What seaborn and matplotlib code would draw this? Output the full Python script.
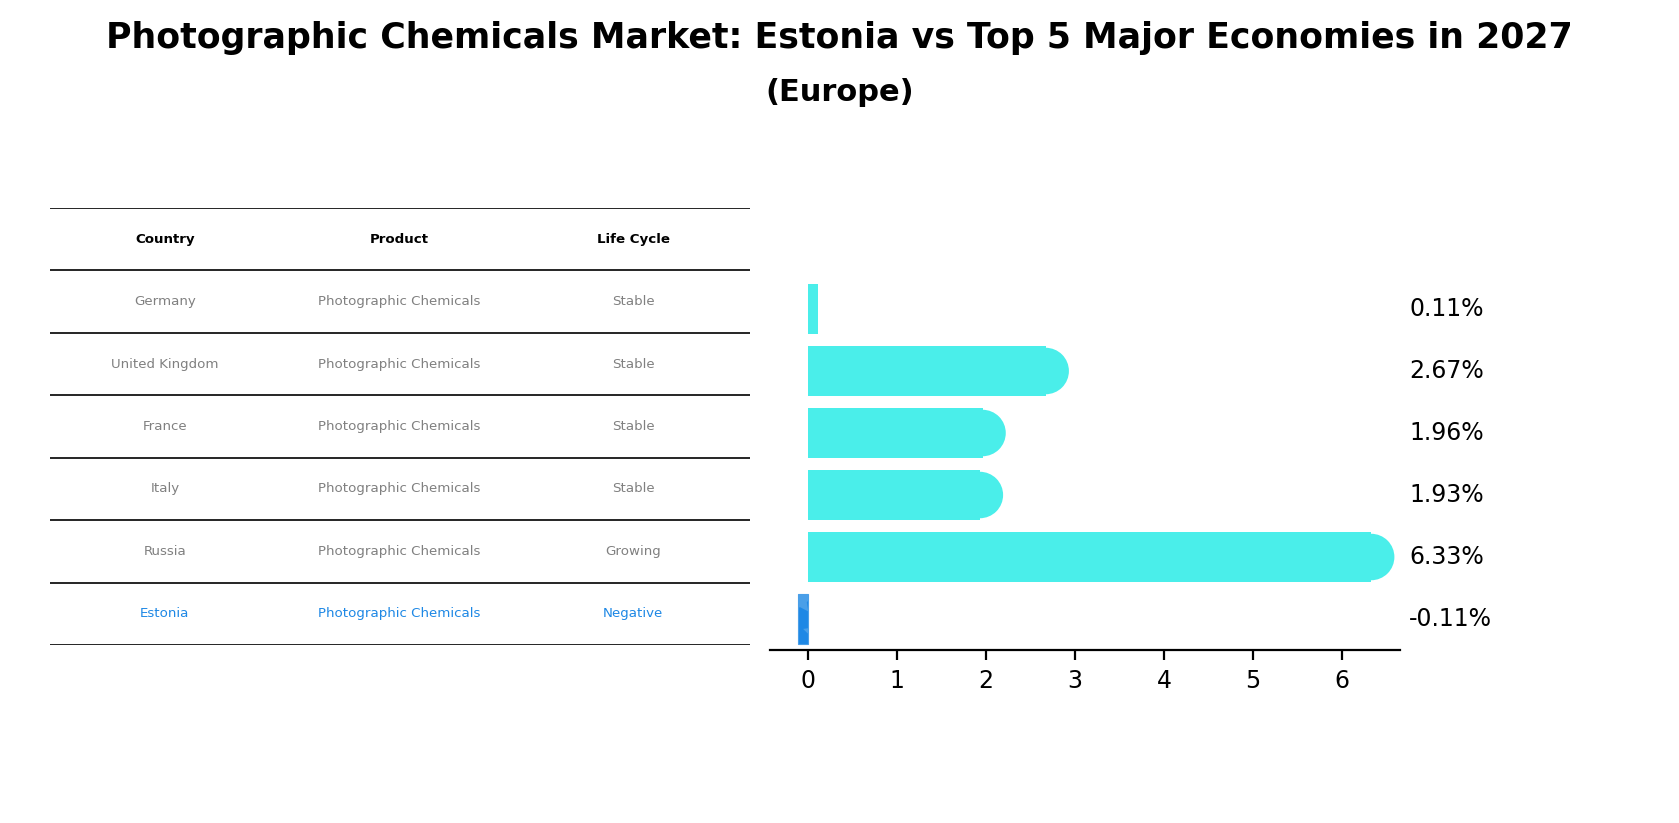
import matplotlib

matplotlib.use("Agg")

import matplotlib.pyplot as plt
import pandas as pd
import seaborn as sns

countries = ["Germany", "United Kingdom", "France", "Italy", "Russia", "Estonia"]
products = ["Photographic Chemicals"] * 6
life_cycle = ["Stable", "Stable", "Stable", "Stable", "Growing", "Negative"]
growth = [0.11, 2.67, 1.96, 1.93, 6.33, -0.11]

BAR = "#4aeeea"
HIGHLIGHT = "#1e88e5"

fig = plt.figure(figsize=(8.395, 4.115), dpi=200)
fig.suptitle("Photographic Chemicals Market: Estonia vs Top 5 Major Economies in 2027",
             fontsize=12.5, fontweight="bold", y=0.975)
fig.text(0.5, 0.887, "(Europe)", ha="center", va="center", fontsize=11, fontweight="bold")

# table on the left
tab = fig.add_axes([0.0298, 0.2163, 0.417, 0.531])
tab.set_xlim(0, 1)
tab.set_ylim(7, 0)
tab.axis("off")
col_x = [0.164, 0.499, 0.833]
for i in range(8):
    tab.axhline(i, color="black", lw=0.6)
for x, h in zip(col_x, ["Country", "Product", "Life Cycle"]):
    tab.text(x, 0.5, h, ha="center", va="center", fontsize=4.8, fontweight="bold")
for r, row in enumerate(zip(countries, products, life_cycle)):
    color = HIGHLIGHT if row[0] == "Estonia" else "gray"
    for x, val in zip(col_x, row):
        tab.text(x, r + 1.5, val, ha="center", va="center", fontsize=4.8, color=color)

# bars on the right
ax = fig.add_axes([0.4586, 0.2102, 0.375, 0.452])
df = pd.DataFrame({"country": countries, "growth": growth})
colors = [HIGHLIGHT if c == "Estonia" else BAR for c in countries]
sns.barplot(data=df, x="growth", y="country", hue="country", palette=colors,
            legend=False, orient="h", width=0.8, ax=ax, saturation=1)
for patch, c in zip(ax.patches, countries):
    if c == "Estonia":
        patch.set_hatch("*")
        patch.set_edgecolor("#4a9fe8")
        patch.set_linewidth(0.4)
for i, v in enumerate(growth):
    if v > 0.5:
        ax.scatter(v, i, s=280, color=BAR, edgecolor="none", zorder=3)
    ax.text(1.015, i, f"{v:.2f}%", transform=ax.get_yaxis_transform(),
            ha="left", va="center", fontsize=8.5)
ax.set_xlim(-0.43, 6.65)
ax.set_ylim(5.5, -0.5)
ax.set_xticks(range(7))
ax.set_xlabel("")
ax.set_ylabel("")
ax.set_yticks([])
for s in ["left", "right", "top"]:
    ax.spines[s].set_visible(False)
ax.tick_params(axis="x", labelsize=8.5)

fig.savefig("out.png", dpi=200)
